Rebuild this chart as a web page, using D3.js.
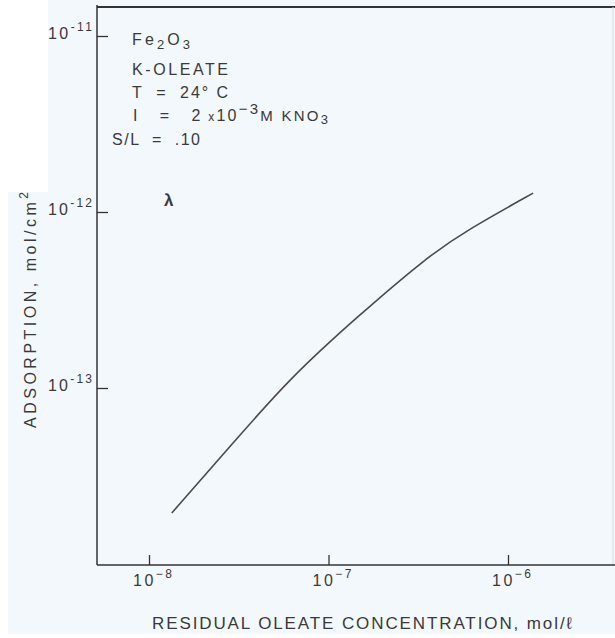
<!DOCTYPE html>
<html>
<head>
<meta charset="utf-8">
<script src="https://cdn.jsdelivr.net/npm/d3@7"></script>
<style>
  body { margin: 0; background: #fff; }
  svg { display: block; }
  text { font-family: "Liberation Sans", Arial, sans-serif; fill: #3a3a3a; white-space: pre; }
</style>
</head>
<body>
<div id="container"></div>
<script>
// adsorption of K-oleate on Fe2O3

// data
const concentration = [1.34e-8, 2.94e-8, 6.1e-8, 1.44e-7, 3.54e-7, 5.92e-7, 1.38e-6];
const adsorption = [1.95e-14, 4.87e-14, 1.14e-13, 2.53e-13, 5.55e-13, 7.9e-13, 1.28e-12];
const xTicks = [1e-8, 1e-7, 1e-6];
const yTicks = [1e-11, 1e-12, 1e-13];
const xTickLabels = ["−8", "−7", "−6"];
const yTickLabels = ["-11", "-12", "-13"];

// constants
const width = 615,
  height = 638,
  frame = { left: 97, top: 7, right: 615, bottom: 565 }

const data = concentration.map((c, i) => ({ c: c, a: adsorption[i] }))

// scales
const xScale = d3.scaleLog()
  .domain([1e-8, 1e-6])
  .range([149, 508])

const yScale = d3.scaleLog()
  .domain([1e-11, 1e-13])
  .range([36, 388])

const svg = d3.select("#container")
  .append("svg")
  .attr("width", width)
  .attr("height", height)

// paper background
svg.append("rect")
  .attr("x", 8).attr("y", 0)
  .attr("width", width - 8).attr("height", 634)
  .attr("fill", "#f3f8fc")
svg.append("rect")
  .attr("x", 0).attr("y", 0)
  .attr("width", 48).attr("height", 192)
  .attr("fill", "#ffffff")

// frame lines
svg.append("line")
  .attr("x1", frame.left).attr("x2", frame.right)
  .attr("y1", frame.top).attr("y2", frame.top)
  .attr("stroke", "#333").attr("stroke-width", 2)
svg.append("line")
  .attr("x1", frame.right - 2).attr("x2", frame.right - 2)
  .attr("y1", frame.top).attr("y2", frame.bottom)
  .attr("stroke", "#d8dde0").attr("stroke-width", 1)
svg.append("line")
  .attr("x1", frame.left).attr("x2", frame.left)
  .attr("y1", frame.top - 2).attr("y2", frame.bottom)
  .attr("stroke", "#333").attr("stroke-width", 1.5)
svg.append("line")
  .attr("x1", frame.left).attr("x2", frame.right)
  .attr("y1", frame.bottom).attr("y2", frame.bottom)
  .attr("stroke", "#333").attr("stroke-width", 1.5)

// axes (ticks only, frame drawn above)
const xAxis = d3.axisBottom(xScale)
  .tickValues(xTicks)
  .tickSize(-10)
  .tickFormat("")

const xAxisGroup = svg.append("g")
  .attr("class", "xAxis")
  .attr("transform", `translate(0, ${frame.bottom})`)
  .call(xAxis)
xAxisGroup.select(".domain").remove()
xAxisGroup.selectAll(".tick line").attr("stroke", "#333").attr("stroke-width", 1.3)

const yAxis = d3.axisLeft(yScale)
  .tickValues(yTicks)
  .tickSize(-11)
  .tickFormat("")

const yAxisGroup = svg.append("g")
  .attr("class", "yAxis")
  .attr("transform", `translate(${frame.left}, 0)`)
  .call(yAxis)
yAxisGroup.select(".domain").remove()
yAxisGroup.selectAll(".tick line").attr("stroke", "#333").attr("stroke-width", 1.3)

// tick labels as 10 with superscript exponent
const xLab = svg.selectAll(".xLab")
  .data(xTicks)
  .join("text")
  .attr("class", "xLab")
  .attr("x", d => xScale(d) - 16)
  .attr("y", frame.bottom + 21)
  .attr("font-size", 16)
  .attr("textLength", 39)
  .attr("lengthAdjust", "spacing")
xLab.append("tspan").text("10")
xLab.append("tspan")
  .attr("dy", -8)
  .attr("font-size", 12)
  .text((d, i) => xTickLabels[i])

const yLab = svg.selectAll(".yLab")
  .data(yTicks)
  .join("text")
  .attr("class", "yLab")
  .attr("x", frame.left - 49)
  .attr("y", d => yScale(d) + 3)
  .attr("font-size", 16)
  .attr("textLength", 44)
  .attr("lengthAdjust", "spacing")
yLab.append("tspan").text("10")
yLab.append("tspan")
  .attr("dy", -8)
  .attr("font-size", 12)
  .text((d, i) => yTickLabels[i])

// axis titles
svg.append("text")
  .attr("x", 152)
  .attr("y", 629)
  .attr("font-size", 17)
  .attr("textLength", 420)
  .attr("lengthAdjust", "spacing")
  .text("RESIDUAL OLEATE CONCENTRATION, mol/ℓ")

const yTitle = svg.append("text")
  .attr("transform", "translate(36, 428) rotate(-90)")
  .attr("font-size", 16)
  .attr("textLength", 236)
  .attr("lengthAdjust", "spacing")
yTitle.append("tspan").text("ADSORPTION, mol/cm")
yTitle.append("tspan").attr("dy", -8).attr("font-size", 12).text("2")

// conditions note
const note = svg.append("g").attr("font-size", 16)

const l1 = note.append("text").attr("x", 132).attr("y", 45)
  .attr("textLength", 58).attr("lengthAdjust", "spacing")
l1.append("tspan").text("Fe")
l1.append("tspan").attr("dy", 4).attr("font-size", 13).text("2")
l1.append("tspan").attr("dy", -4).text("O")
l1.append("tspan").attr("dy", 4).attr("font-size", 13).text("3")

note.append("text").attr("x", 132).attr("y", 75)
  .attr("textLength", 96).attr("lengthAdjust", "spacing")
  .text("K-OLEATE")
note.append("text").attr("x", 132).attr("y", 98)
  .attr("textLength", 96).attr("lengthAdjust", "spacing")
  .text("T  =  24° C")

const l4 = note.append("text").attr("x", 133).attr("y", 121)
  .attr("textLength", 195).attr("lengthAdjust", "spacing")
l4.append("tspan").text("I   =   2")
l4.append("tspan").attr("font-size", 12).text(" x")
l4.append("tspan").text("10")
l4.append("tspan").attr("dy", -7).attr("font-size", 15).text("−3")
l4.append("tspan").attr("dy", 7).attr("font-size", 15).text("M KNO")
l4.append("tspan").attr("dy", 3).attr("font-size", 13).text("3")

note.append("text").attr("x", 112).attr("y", 145)
  .attr("textLength", 88).attr("lengthAdjust", "spacing")
  .text("S/L  =  .10")

// stray pen mark
svg.append("text")
  .attr("x", 164).attr("y", 206)
  .attr("font-size", 17)
  .attr("font-weight", "bold")
  .attr("fill", "#222")
  .text("λ")

// line generator - basis smooths out reading noise
const lineGen = d3.line()
  .x(d => xScale(d.c))
  .y(d => yScale(d.a))
  .curve(d3.curveBasis)

svg.selectAll(".line")
  .data([data])
  .join("path")
  .attr("class", "line")
  .attr("fill", "none")
  .attr("stroke", "#4a4a4a")
  .attr("stroke-width", 1.6)
  .attr("d", d => lineGen(d))
</script>
</body>
</html>
